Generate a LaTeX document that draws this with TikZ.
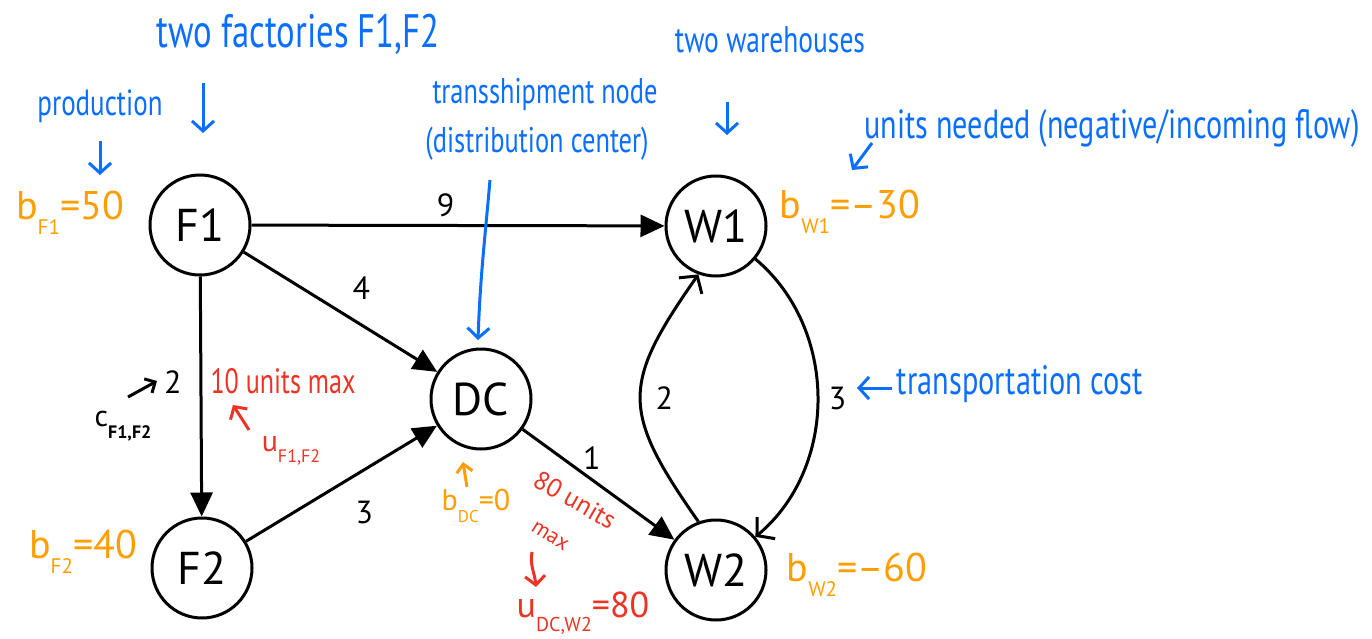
\documentclass[tikz,border=0pt]{standalone}
\usepackage{fontspec}
\usepackage{graphicx}
\setmainfont{PT Sans}
\usetikzlibrary{arrows.meta}
\definecolor{hblue}{RGB}{10,110,255}
\definecolor{horange}{RGB}{255,158,0}
\definecolor{hred}{RGB}{236,52,36}
\newcommand{\hw}[2]{\resizebox{#1pt}{!}{\scalebox{1}[1.35]{#2}}}
\newcommand{\sbs}[1]{\raisebox{-0.38em}{\fontsize{21}{21}\selectfont #1}}
\begin{document}
\begin{tikzpicture}[x=1pt,y=-1pt,
  state/.style={circle,draw,line width=3pt,minimum size=100pt,inner sep=0pt,font=\fontsize{46}{50}\selectfont},
  edge/.style={line width=3pt,-{Triangle[length=24pt,width=22pt]}},
  cedge/.style={line width=3pt,-{Straight Barb[length=12pt,width=28pt,line width=3pt]}},
  lbl/.style={font=\fontsize{32}{36}\selectfont,inner sep=0pt},
  note/.style={text=hblue,inner sep=0pt},
  rnote/.style={text=hred,inner sep=0pt},
  onote/.style={text=horange,inner sep=0pt,font=\fontsize{40}{44}\selectfont},
  barrow/.style={draw=hblue,line width=3pt,-{Straight Barb[length=10pt,width=22pt,line width=3pt]}},
  rarrow/.style={draw=hred,line width=3pt,-{Straight Barb[length=9pt,width=20pt,line width=3pt]}},
  oarrow/.style={draw=horange,line width=3pt,-{Straight Barb[length=8pt,width=16pt,line width=3pt]}},
  karrow/.style={draw=black,line width=3pt,-{Straight Barb[length=8pt,width=16pt,line width=3pt]}}]
\useasboundingbox (0,0) rectangle (1372,639);
\fill[white] (0,0) rectangle (1372,639);

% nodes
\node[state] (F1) at (200,225) {F1};
\node[state] (F2) at (202,568) {F2};
\node[state] (DC) at (481,399) {DC};
\node[state] (W1) at (716,226) {W1};
\node[state] (W2) at (716,570) {W2};

% edges
\draw[edge] (F1) -- node[lbl,pos=0.47,yshift=20pt] (l9) {9} (W1);
\draw[edge] (F1) -- node[lbl,pos=0.52,xshift=17pt,yshift=26pt] (l4) {4} (DC);
\draw[edge] (F1) -- node[lbl,pos=0.44,xshift=-28pt] (c2) {2} (F2);
\draw[edge] (F2) -- node[lbl,pos=0.52,xshift=19pt,yshift=-31pt] (l3) {3} (DC);
\draw[edge] (DC) -- node[lbl,pos=0.39,xshift=10pt,yshift=14pt] (l1) {1} (W2);
\draw[cedge] (W2.110) to[out=125,in=235,looseness=1.4] node[lbl,pos=0.5,xshift=24pt] (lw2) {2} (W1.250);
\draw[cedge] (W1) to[bend left=50] node[lbl,pos=0.5,xshift=20pt] (c3) {3} (W2);

% blue notes
\node[note] (tf) at (298,34) {\hw{283}{two factories F1,F2}};
\node[note] (prod) at (100,106) {\hw{125}{production}};
\node[note] (ts1) at (545,94) {\hw{225}{transshipment node}};
\node[note] (ts2) at (537,144) {\hw{223}{(distribution center)}};
\node[note] (tw) at (770,40) {\hw{190}{two warehouses}};
\node[note] (un) at (1112,128) {\hw{495}{units needed (negative/incoming flow)}};
\node[note] (tc) at (1020,384) {\hw{246}{transportation cost}};

\coordinate (a1s) at (203,83);  \coordinate (a1e) at (203,133);
\coordinate (a2s) at (100,141); \coordinate (a2e) at (100,175);
\coordinate (a3s) at (490,180); \coordinate (a3e) at (478,340);
\coordinate (a4s) at (727,102); \coordinate (a4e) at (727,135);
\coordinate (a5s) at (872,143); \coordinate (a5e) at (852,170);
\coordinate (a6s) at (892,388); \coordinate (a6e) at (857,388);
\draw[barrow] (a1s) -- (a1e);
\draw[barrow] (a2s) -- (a2e);
\draw[barrow] (a3s) to[out=-95,in=88] (a3e);
\draw[barrow] (a4s) -- (a4e);
\draw[barrow] (a5s) -- (a5e);
\draw[barrow] (a6s) -- (a6e);

% orange supplies
\node[onote] (bF1) at (70,213) {b\sbs{F1}=50};
\node[onote] (bF2) at (83,552) {b\sbs{F2}=40};
\node[onote] (bW1) at (850,212) {b\sbs{W1}=–30};
\node[onote] (bW2) at (857,575) {b\sbs{W2}=–60};
\node[onote,font=\fontsize{30}{34}\selectfont] (bDC) at (476,506) {b\raisebox{-0.38em}{\fontsize{17}{17}\selectfont DC}=0};
\coordinate (o1s) at (467,487); \coordinate (o1e) at (463,462);
\draw[oarrow] (o1s) -- (o1e);

% red capacities
\node[rnote] (r10) at (283,381) {\hw{145}{10 units max}};
\node[rnote,font=\fontsize{30}{34}\selectfont] (uF) at (291,451) {u\raisebox{-0.38em}{\fontsize{18}{18}\selectfont F1,F2}};
\coordinate (r1s) at (249,430); \coordinate (r1e) at (233,405);
\draw[rarrow] (r1s) -- (r1e);
\node[rnote,rotate=-30,font=\fontsize{26}{28}\selectfont] (r80) at (575,500) {80 units};
\node[rnote,rotate=-32,font=\fontsize{22}{24}\selectfont] (rmax) at (550,536) {max};
\coordinate (r2s) at (532,552); \coordinate (r2e) at (536,587);
\draw[rarrow] (r2s) to[out=-100,in=95] (r2e);
\node[rnote,font=\fontsize{36}{40}\selectfont] (uDW) at (583,613) {u\raisebox{-0.38em}{\fontsize{20}{20}\selectfont DC,W2}=80};

% black cost annotation
\node[inner sep=0pt,font=\fontsize{30}{34}\selectfont] (cF) at (123,426) {c\raisebox{-0.38em}{\fontsize{18}{18}\selectfont\bfseries F1,F2}};
\coordinate (k1s) at (128,397); \coordinate (k1e) at (157,381);
\draw[karrow] (k1s) -- (k1e);
\end{tikzpicture}
\end{document}
